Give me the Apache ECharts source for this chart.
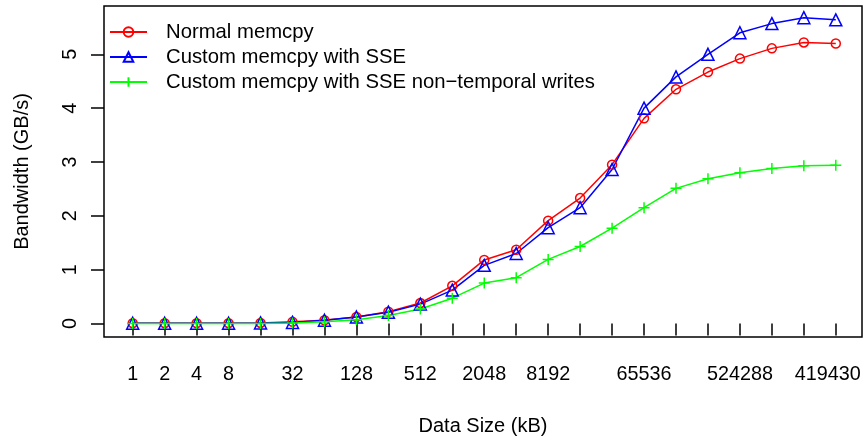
<!DOCTYPE html>
<html>
<head>
<meta charset="utf-8">
<script src="https://cdn.jsdelivr.net/npm/echarts@6/dist/echarts.min.js"></script>
<style>
html,body{margin:0;padding:0;background:#fff;}
#c{width:866px;height:436px;}
</style>
</head>
<body>
<div id="c"></div>
<script>
// Data sizes (kB)
const sizes = [1,2,4,8,16,32,64,128,256,512,1024,2048,4096,8192,16384,32768,65536,131072,262144,524288,1048576,2097152,4194304];
// Tick labels shown on the x axis (position index -> text)
const labelPositions = [1,2,3,4,6,8,10,12,14,17,20,23];
const labelTexts = ["1","2","4","8","32","128","512","2048","8192","65536","524288","419430"];
const yTicks = [0,1,2,3,4,5];
// Bandwidth (GB/s)
const normalMemcpy = [0.005,0.005,0.005,0.005,0.01,0.03,0.06,0.12,0.22,0.38,0.70,1.18,1.37,1.91,2.33,2.95,3.81,4.35,4.67,4.92,5.11,5.22,5.20];
const sseMemcpy    = [0.005,0.005,0.005,0.005,0.01,0.02,0.06,0.12,0.21,0.36,0.62,1.08,1.30,1.78,2.15,2.86,4.00,4.58,5.00,5.40,5.57,5.68,5.64];
const sseNtMemcpy  = [0.0,0.0,0.0,0.0,0.0,0.01,0.03,0.07,0.15,0.27,0.47,0.75,0.85,1.19,1.43,1.77,2.15,2.51,2.69,2.80,2.88,2.93,2.94];
const seriesNames = ["Normal memcpy","Custom memcpy with SSE","Custom memcpy with SSE non\u2212temporal writes"];

const FONT = '"Liberation Sans", Arial, Helvetica, sans-serif';
const toPts = arr => arr.map((v, i) => [i + 1, v]);
const xTickValues = sizes.map((s, i) => i + 1);

function mkSeries(name, data, color, symbol, size) {
  return {
    name, type: 'line', data: toPts(data),
    symbol, symbolSize: size,
    showAllSymbol: true,
    lineStyle: { color, width: 1.5 },
    itemStyle: { color: 'rgba(0,0,0,0)', borderColor: color, borderWidth: 1.5 },
    emphasis: { disabled: true },
    animation: false
  };
}

const chart = echarts.init(document.getElementById('c'), null, { renderer: 'canvas' });
chart.setOption({
  animation: false,
  backgroundColor: '#fff',
  textStyle: { fontFamily: FONT },
  grid: { left: 104, right: 4, top: 6, bottom: 99, outerBoundsMode: 'none', containLabel: false, show: true, borderColor: '#000', borderWidth: 1.5, backgroundColor: 'transparent' },
  legend: {
    orient: 'vertical', left: 104, top: 17,
    itemWidth: 37, itemHeight: 12, itemGap: 5,
    textStyle: { fontFamily: FONT, fontSize: 20.3, color: '#000', padding: [0,0,0,14] },
    data: seriesNames
  },
  xAxis: {
    type: 'value', min: 0.102, max: 23.82,
    name: 'Data Size (kB)', nameLocation: 'middle', nameGap: 79,
    nameTextStyle: { fontFamily: FONT, fontSize: 20, color: '#000' },
    axisLine: { show: false },
    splitLine: { show: false },
    axisTick: { show: true, inside: false, length: 12, customValues: xTickValues, lineStyle: { color: '#000', width: 1.5 } },
    axisLabel: {
      show: true, margin: 28, customValues: labelPositions,
      fontFamily: FONT, fontSize: 19.8, color: '#000',
      formatter: function (v) {
        const k = labelPositions.indexOf(Math.round(v));
        if (k < 0) return '';
        if (k === labelPositions.length - 1) return '{r|' + labelTexts[k] + '}';
        return labelTexts[k];
      },
      rich: { r: { fontFamily: FONT, fontSize: 19.8, color: '#000', padding: [0, 16, 0, 0] } }
    }
  },
  yAxis: {
    type: 'value', min: -0.251, max: 5.897,
    name: 'Bandwidth (GB/s)', nameLocation: 'middle', nameGap: 72, nameRotate: 90,
    nameTextStyle: { fontFamily: FONT, fontSize: 20, color: '#000' },
    axisLine: { show: false },
    splitLine: { show: false },
    axisTick: { show: true, inside: false, length: 13, customValues: yTicks, lineStyle: { color: '#000', width: 1.5 } },
    axisLabel: { show: true, rotate: 90, margin: 23, customValues: yTicks, fontFamily: FONT, fontSize: 19.8, color: '#000' }
  },
  series: [
    mkSeries(seriesNames[0], normalMemcpy, '#ff0000', 'circle', 9),
    mkSeries(seriesNames[1], sseMemcpy, '#0000ff', 'triangle', 12),
    mkSeries(seriesNames[2], sseNtMemcpy, '#00ff00', 'path://M5,0L5,10M0,5L10,5', 11)
  ]
});
</script>
</body>
</html>
